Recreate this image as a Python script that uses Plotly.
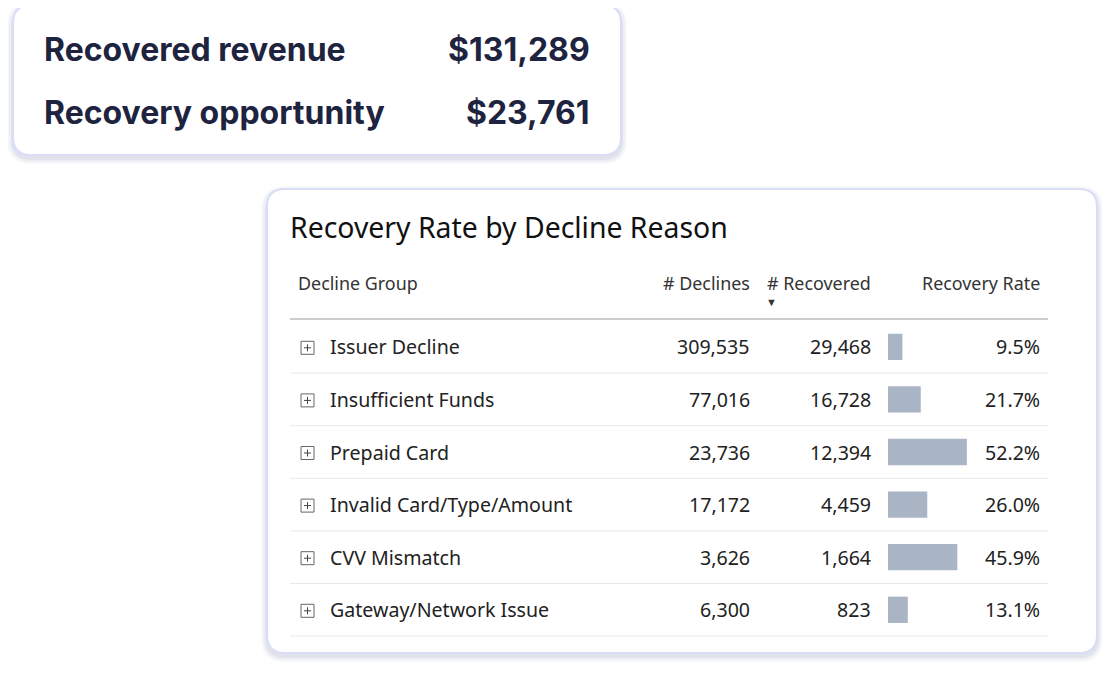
import plotly.graph_objects as go

W, H = 1102, 666
OFF = 8
groups = ["Issuer Decline", "Insufficient Funds", "Prepaid Card", "Invalid Card/Type/Amount", "CVV Mismatch", "Gateway/Network Issue"]
declines = ["309,535", "77,016", "23,736", "17,172", "3,626", "6,300"]
recovered = ["29,468", "16,728", "12,394", "4,459", "1,664", "823"]
rates = [0.095, 0.217, 0.522, 0.260, 0.459, 0.131]
kpi_labels = ["Recovered revenue", "Recovery opportunity"]
kpi_values = ["$131,289", "$23,761"]
headers = ["Decline Group", "# Declines", "# Recovered", "Recovery Rate"]

def px(x): return (x - OFF) / W
def py(y): return 1 - (y - OFF) / H
def lx(x): return px(x - 2)
def rx_(x): return px(x + 2)

def rrect(x0, y0, x1, y1, r):
    rx, ry = r / W, r / H
    X0, X1, Y0, Y1 = px(x0), px(x1), py(y1), py(y0)
    return (f"M{X0+rx},{Y1} L{X1-rx},{Y1} Q{X1},{Y1} {X1},{Y1-ry} L{X1},{Y0+ry} Q{X1},{Y0} {X1-rx},{Y0} "
            f"L{X0+rx},{Y0} Q{X0},{Y0} {X0},{Y0+ry} L{X0},{Y1-ry} Q{X0},{Y1} {X0+rx},{Y1} Z")

shapes, ann = [], []
NAVY = "#1e2440"
for d, op in [(6, 0.04), (4, 0.05), (2, 0.07)]:
    shapes.append(dict(type="path", xref="paper", yref="paper", path=rrect(13-d, 5-d+3, 621+d, 155+d+3, 18+d),
                       fillcolor=f"rgba(60,70,140,{op})", line=dict(width=0), layer="below"))
    shapes.append(dict(type="path", xref="paper", yref="paper", path=rrect(267-d, 189-d+3, 1097+d, 653+d+3, 18+d),
                       fillcolor=f"rgba(60,70,140,{op})", line=dict(width=0), layer="below"))
shapes.append(dict(type="path", xref="paper", yref="paper", path=rrect(13, 5, 621, 155, 18),
                   fillcolor="white", line=dict(color="#d9ddf6", width=2), layer="below"))
shapes.append(dict(type="path", xref="paper", yref="paper", path=rrect(267, 189, 1097, 653, 18),
                   fillcolor="white", line=dict(color="#d9ddf6", width=2), layer="below"))

for i, (l, v) in enumerate(zip(kpi_labels, kpi_values)):
    y = 49 + i * 63
    ann.append(dict(x=lx(44), y=py(y), text=f"<b>{l}</b>", xanchor="left", font=dict(size=32, color=NAVY, family="Inter")))
    ann.append(dict(x=rx_(590), y=py(y), text=f"<b>{v}</b>", xanchor="right", font=dict(size=32, color=NAVY, family="Inter")))

ann.append(dict(x=lx(290), y=py(227), text="Recovery Rate by Decline Reason", xanchor="left",
                font=dict(size=28.4, color="#111111", family="Noto Sans")))
hf = dict(size=17.9, color="#333333", family="Noto Sans")
ann.append(dict(x=lx(298), y=py(283), text=headers[0], xanchor="left", font=hf))
ann.append(dict(x=rx_(750), y=py(283), text=headers[1], xanchor="right", font=hf))
ann.append(dict(x=rx_(871), y=py(283), text=headers[2], xanchor="right", font=hf))
ann.append(dict(x=rx_(1040), y=py(283), text=headers[3], xanchor="right", font=hf))
ann.append(dict(x=px(779), y=py(302), text="▼", font=dict(size=11, color="#333333")))
shapes.append(dict(type="line", xref="paper", yref="paper", x0=px(290), x1=px(1048), y0=py(319), y1=py(319),
                   line=dict(color="#cccccc", width=2)))

top, step = 320.5, 52.6
rf = dict(size=19.6, color="#222222", family="Noto Sans")
for i, g in enumerate(groups):
    yc = top + step * (i + 0.5)
    ann.append(dict(x=lx(330), y=py(yc), text=g, xanchor="left", font=rf))
    ann.append(dict(x=rx_(750), y=py(yc), text=declines[i], xanchor="right", font=rf))
    ann.append(dict(x=rx_(871), y=py(yc), text=recovered[i], xanchor="right", font=rf))
    ann.append(dict(x=rx_(1040), y=py(yc), text=f"{rates[i]*100:.1f}%", xanchor="right", font=rf))
    shapes.append(dict(type="rect", xref="paper", yref="paper", x0=px(301), x1=px(314), y0=py(yc-5.5), y1=py(yc+7.5),
                       line=dict(color="#666666", width=1), fillcolor="white"))
    shapes.append(dict(type="line", xref="paper", yref="paper", x0=px(304), x1=px(311), y0=py(yc+1), y1=py(yc+1),
                       line=dict(color="#444444", width=1)))
    shapes.append(dict(type="line", xref="paper", yref="paper", x0=px(307.5), x1=px(307.5), y0=py(yc-2.5), y1=py(yc+4.5),
                       line=dict(color="#444444", width=1)))
    yb = top + step * (i + 1)
    shapes.append(dict(type="line", xref="paper", yref="paper", x0=px(290), x1=px(1048), y0=py(yb), y1=py(yb),
                       line=dict(color="#e8e8e8", width=1)))

fig = go.Figure(go.Bar(x=rates, y=groups, orientation="h", marker=dict(color="#a9b5c4", line=dict(width=0)),
                       width=0.5, hoverinfo="skip"))
fig.update_layout(width=W, height=H, margin=dict(l=0, r=0, t=0, b=0), plot_bgcolor="rgba(0,0,0,0)",
                  paper_bgcolor="white", showlegend=False, shapes=shapes,
                  annotations=[dict(a, xref="paper", yref="paper", showarrow=False, yanchor="middle") for a in ann],
                  xaxis=dict(domain=[px(888), px(1039)], range=[0, 1], visible=False, fixedrange=True),
                  yaxis=dict(domain=[py(top + 6 * step), py(top)], range=[5.5, -0.5], visible=False, fixedrange=True))
fig.write_html("out.html")
